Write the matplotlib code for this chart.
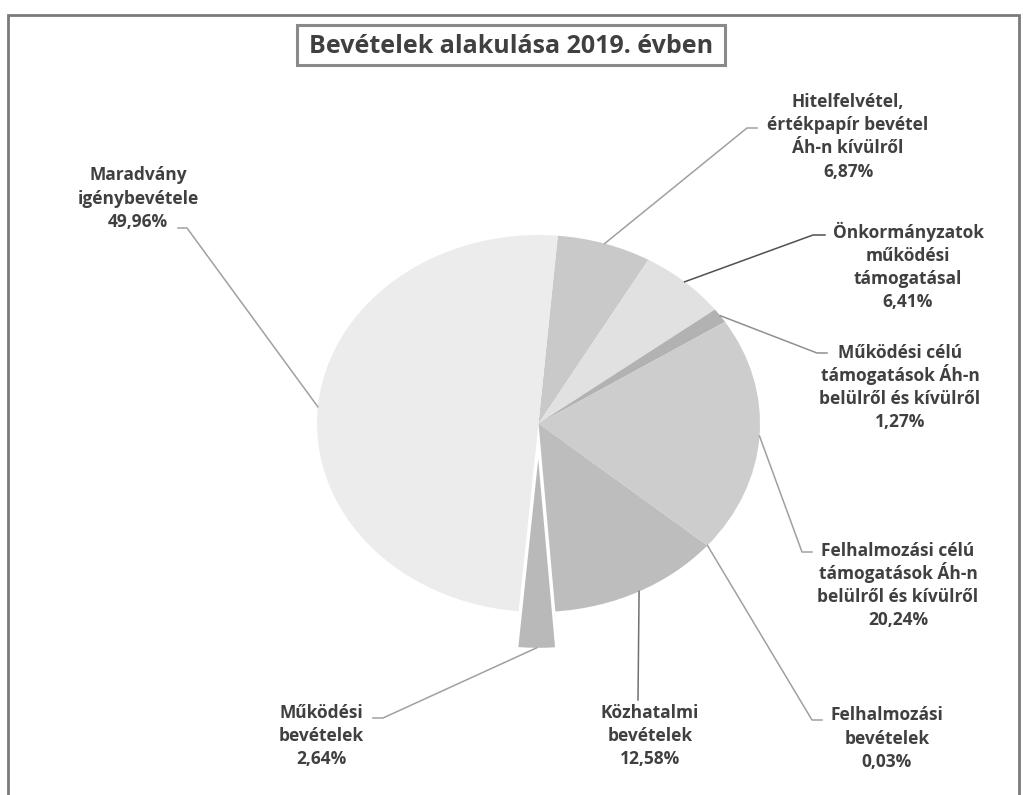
import matplotlib
matplotlib.use("Agg")
import matplotlib.pyplot as plt
from matplotlib.lines import Line2D
from matplotlib.patches import Rectangle
import numpy as np

plt.rcParams['font.family'] = ['Open Sans', 'DejaVu Sans']

title = "Bevételek alakulása 2019. évben"
categories = [
    "Hitelfelvétel,\nértékpapír bevétel\nÁh-n kívülről",
    "Önkormányzatok\nműködési\ntámogatásal",
    "Működési célú\ntámogatások Áh-n\nbelülről és kívülről",
    "Felhalmozási célú\ntámogatások Áh-n\nbelülről és kívülről",
    "Felhalmozási\nbevételek",
    "Közhatalmi\nbevételek",
    "Működési\nbevételek",
    "Maradvány\nigénybevétele",
]
values = [6.87, 6.41, 1.27, 20.24, 0.03, 12.58, 2.64, 49.96]
pct_labels = ["6,87%", "6,41%", "1,27%", "20,24%", "0,03%", "12,58%", "2,64%", "49,96%"]

colors = ["#c9c9c9", "#e1e1e1", "#b2b2b2", "#cdcdcd", "#c0c0c0", "#bdbdbd", "#b9b9b9", "#ececec"]
explode = [0, 0, 0, 0, 0, 0, 0.19, 0]

W, H = 1023, 795
fig = plt.figure(figsize=(W / 100, H / 100), dpi=100)
fig.patch.set_facecolor("white")

def fx(px):
    return px / W

def fy(py):
    return 1 - py / H

# pie axes (elliptical, as in the reference)
cx, cy, rx, ry = 538.5, 423.5, 221.5, 188.5
ax = fig.add_axes([fx(cx - rx), fy(cy + ry), 2 * rx / W, 2 * ry / H])
wedges, _ = ax.pie(values, colors=colors, startangle=85, counterclock=False,
                   explode=explode, wedgeprops=dict(linewidth=0))
ax.set_aspect('auto')
ax.set_xlim(-1, 1)
ax.set_ylim(-1, 1)
ax.set_axis_off()
for w in wedges:
    w.set_clip_on(False)

# label layout: centre x and first-line centre y (pixels), line step
label_x = [848, 908, 900, 898, 887, 650, 321, 138]
label_y0 = [101.5, 232, 352, 550, 715, 712, 712, 175]
line_step = 23.2
elbows = [[(747, 128), (757, 128)],
          [(813, 235), (825, 235)],
          [(817, 353), (827, 353)],
          [(802, 552), (812, 552)],
          [(812, 720), (822, 720)],
          [(638, 700)],
          [(383, 718), (373, 718)],
          [(187, 228), (178, 228)]]
line_colors = ["#a0a0a0", "#505050", "#909090", "#a0a0a0", "#a0a0a0", "#707070", "#a0a0a0", "#a0a0a0"]

fig.canvas.draw()
inv = fig.transFigure.inverted()
for i, w in enumerate(wedges):
    mid = np.deg2rad((w.theta1 + w.theta2) / 2)
    r = 1.0 + explode[i]
    disp = ax.transData.transform((r * np.cos(mid), r * np.sin(mid)))
    ax_pt = inv.transform(disp)
    xs = [ax_pt[0]] + [fx(p[0]) for p in elbows[i]]
    ys = [ax_pt[1]] + [fy(p[1]) for p in elbows[i]]
    fig.add_artist(Line2D(xs, ys, color=line_colors[i], lw=1.1, transform=fig.transFigure))
    lines = categories[i].split("\n") + [pct_labels[i]]
    for k, t in enumerate(lines):
        base = label_y0[i] + k * line_step + 5.5
        fig.text(fx(label_x[i]), fy(base), t, ha="center", va="baseline",
                 fontsize=12.5, fontweight="bold", color="#404040")

# title with box
fig.text(fx(511), fy(53), title, ha="center", va="baseline", fontsize=18,
         fontweight="bold", color="#404040")
fig.add_artist(Rectangle((fx(297), fy(65)), fx(725) - fx(297), fy(25) - fy(65),
                         transform=fig.transFigure, fill=False, edgecolor="#8a8a8a", lw=2.2))

# outer chart frame
fig.add_artist(Rectangle((fx(8), fy(800)), fx(1019) - fx(8), fy(15) - fy(800),
                         transform=fig.transFigure, fill=False, edgecolor="#7a7a7a", lw=2.0))

fig.savefig("out.png", dpi=100, facecolor="white")
